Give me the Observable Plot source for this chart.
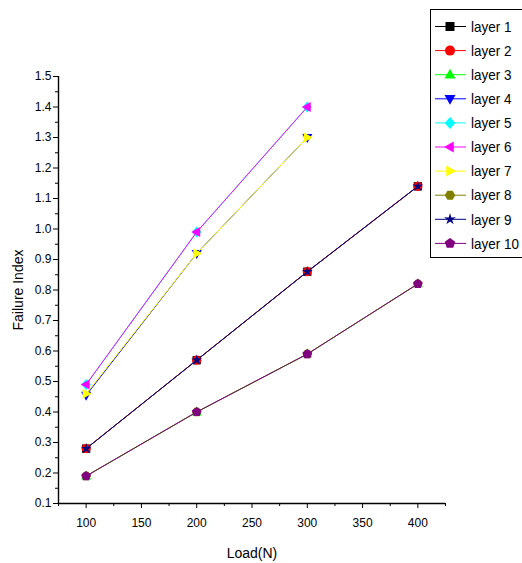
<!DOCTYPE html>
<html><head><meta charset="utf-8">
<script src="https://cdn.jsdelivr.net/npm/d3@7"></script>
<script src="https://cdn.jsdelivr.net/npm/@observablehq/plot@0.6"></script>
<style>
body{margin:0;background:#fff;font-family:"Liberation Sans",Arial,sans-serif;}
#wrap{position:relative;width:522px;height:563px;overflow:hidden;background:#fff}
#legend{position:absolute;left:430px;top:9px;}
</style></head><body><div id="wrap"></div>
<script>
// ---- data ----
const loads = [100, 200, 300, 400];
const layerNames = ["layer 1","layer 2","layer 3","layer 4","layer 5","layer 6","layer 7","layer 8","layer 9","layer 10"];
const layerColors = ["#000000","#ff0000","#00ff00","#0000ff","#00ffff","#ff00ff","#ffff00","#808000","#000080","#800080"];
const layerSymbols = ["square","circle","triangleUp","triangleDown","diamond","triangleLeft","triangleRight","hexagon","star","pentagon"];
const layer1  = [0.28, 0.57, 0.86, 1.14];
const layer2  = [0.28, 0.57, 0.86, 1.14];
const layer3  = [0.19, 0.40, 0.59, 0.82];
const layer4  = [0.455, 0.92, 1.30];
const layer5  = [0.49, 0.99, 1.40];
const layer6  = [0.49, 0.99, 1.40];
const layer7  = [0.46, 0.92, 1.30];
const layer8  = [0.19, 0.40, 0.59, 0.82];
const layer9  = [0.28, 0.57, 0.86, 1.14];
const layer10 = [0.19, 0.40, 0.59, 0.82];
const layerValues = [layer1,layer2,layer3,layer4,layer5,layer6,layer7,layer8,layer9,layer10];
const yTicks = [0.1,0.2,0.3,0.4,0.5,0.6,0.7,0.8,0.9,1.0,1.1,1.2,1.3,1.4,1.5];
const yMinor = [0.15,0.25,0.35,0.45,0.55,0.65,0.75,0.85,0.95,1.05,1.15,1.25,1.35,1.45];
const xTicks = [100,150,200,250,300,350,400];
const xMinor = [75,125,175,225,275,325,375,425];
const xDomain = [75, 425];
const yDomain = [0.1, 1.5];

// ---- symbols ----
function poly(pts){
  return {draw(ctx, size){
    const r = Math.sqrt(size/Math.PI);
    pts.forEach(([a,b],i)=> i ? ctx.lineTo(a*r,b*r) : ctx.moveTo(a*r,b*r));
    ctx.closePath();
  }};
}
function regular(n, rot, k){
  const pts=[]; for(let i=0;i<n;i++){const a=rot+i*2*Math.PI/n; pts.push([k*Math.cos(a),k*Math.sin(a)]);} return pts;
}
const symbolDefs = {
  square: poly([[-0.9,-0.9],[0.9,-0.9],[0.9,0.9],[-0.9,0.9]]),
  circle: {draw(ctx,size){const r=Math.sqrt(size/Math.PI); ctx.moveTo(r,0); ctx.arc(0,0,r,0,2*Math.PI);}},
  triangleUp: poly([[0,-1.2],[1.1,0.75],[-1.1,0.75]]),
  triangleDown: poly([[0,1.2],[1.1,-0.75],[-1.1,-0.75]]),
  diamond: poly([[0,-1.2],[1.05,0],[0,1.2],[-1.05,0]]),
  triangleLeft: poly([[-1.2,0],[0.75,-1.1],[0.75,1.1]]),
  triangleRight: poly([[1.2,0],[-0.75,-1.1],[-0.75,1.1]]),
  hexagon: poly(regular(6, 0, 1.05)),
  star: {draw(ctx,size){const r=Math.sqrt(size/Math.PI); const pts=[]; for(let i=0;i<10;i++){const a=-Math.PI/2+i*Math.PI/5; const k=i%2?0.45:1.25; pts.push([k*r*Math.cos(a),k*r*Math.sin(a)]);} pts.forEach(([a,b],i)=> i?ctx.lineTo(a,b):ctx.moveTo(a,b)); ctx.closePath();}},
  pentagon: poly(regular(5, -Math.PI/2, 1.1))
};

// ---- build ----
const rows = layerNames.map((name,i)=> layerValues[i].map((v,j)=>({layer:name, load:loads[j], fi:v})));
const marks = [];
rows.forEach((d,i)=>{
  marks.push(Plot.line(d, {x:"load", y:"fi", stroke: layerColors[i], strokeWidth: 1}));
  marks.push(Plot.dot(d, {x:"load", y:"fi", fill: layerColors[i], symbol: symbolDefs[layerSymbols[i]], r: 4.6}));
});

const chart = Plot.plot({
  width: 522, height: 563,
  marginLeft: 58, marginRight: 77, marginTop: 76, marginBottom: 60,
  style: {fontFamily: '"Liberation Sans", Arial, sans-serif', fontSize: "12px", background: "#fff", color:"#000"},
  x: {domain: xDomain},
  y: {domain: yDomain},
  marks: [
    Plot.axisY({ticks: yTicks, tickFormat: d3.format(".1f"), tickSize: 5, tickPadding: 2, fontSize: 12,
      label: "Failure Index", labelAnchor: "center", labelOffset: 45, labelArrow: "none"}),
    Plot.axisY({ticks: yMinor, tickFormat: () => "", tickSize: 3, label: null}),
    Plot.axisX({ticks: xTicks, tickFormat: d => d, tickSize: 5, tickPadding: 10, fontSize: 12,
      label: "Load(N)", labelAnchor: "center", labelOffset: 54, labelArrow: "none"}),
    Plot.axisX({ticks: xMinor, tickFormat: () => "", tickSize: 3, label: null}),
    Plot.ruleX([xDomain[0]], {stroke:"#000", strokeWidth: 1.4}),
    Plot.ruleY([yDomain[0]], {stroke:"#000", strokeWidth: 1.4}),
    ...marks
  ]
});
const wrap = document.getElementById("wrap");
wrap.appendChild(chart);

// label font sizes
d3.select(chart).selectAll("g[aria-label='x-axis label'] text, g[aria-label='y-axis label'] text").style("font-size","14px");

// ---- legend ----
const rowH = 24.1, lw = 92, lh = 249;
const leg = d3.create("svg").attr("id","legend").attr("width", lw).attr("height", lh)
  .style("font-family",'"Liberation Sans", Arial, sans-serif');
leg.append("rect").attr("x",0.5).attr("y",0.5).attr("width",lw+5).attr("height",lh-1)
  .attr("fill","#fff").attr("stroke","#000").attr("stroke-width",1);
layerNames.forEach((name,i)=>{
  const g = leg.append("g").attr("transform",`translate(0,${17.5 + i*rowH})`);
  g.append("line").attr("x1",5).attr("x2",36).attr("y1",0).attr("y2",0).attr("stroke",layerColors[i]).attr("stroke-width",1);
  const p = d3.path();
  symbolDefs[layerSymbols[i]].draw(p, Math.PI*5*5);
  g.append("path").attr("d", p.toString()).attr("transform","translate(20,0)").attr("fill",layerColors[i]);
  g.append("text").attr("transform","translate(41,0) scale(0.9,1)").attr("dy","0.35em").attr("font-size","15px").text(name);
});
wrap.appendChild(leg.node());
</script>
</body></html>
